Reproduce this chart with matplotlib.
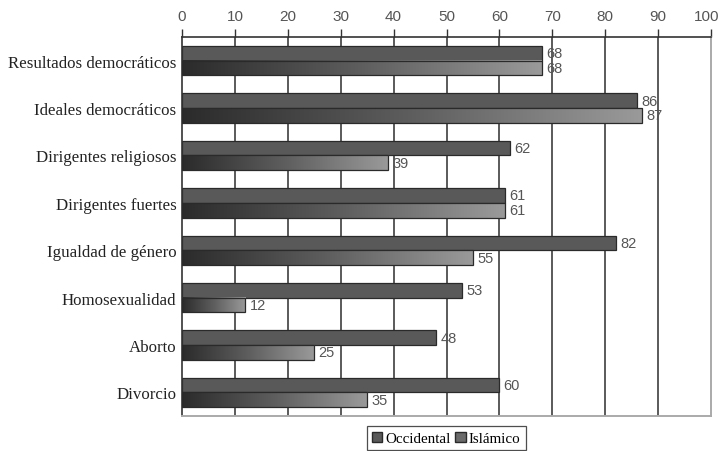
import numpy as np
import matplotlib
matplotlib.use("Agg")
import matplotlib.pyplot as plt
import matplotlib.transforms as mtransforms
from matplotlib.colors import LinearSegmentedColormap
from matplotlib.patches import Patch

categories = ["Resultados democráticos", "Ideales democráticos", "Dirigentes religiosos",
              "Dirigentes fuertes", "Igualdad de género", "Homosexualidad", "Aborto", "Divorcio"]
occidental = [68, 86, 62, 61, 82, 53, 48, 60]
islamico = [68, 87, 39, 61, 55, 12, 25, 35]
series_names = ["Occidental", "Islámico"]
x_ticks = [0, 10, 20, 30, 40, 50, 60, 70, 80, 90, 100]

fig = plt.figure(figsize=(7.22, 4.52), dpi=100)
ax = fig.add_axes([0.2521, 0.0774, 0.7327, 0.8385])

n = len(categories)
y = np.arange(n)
h = 0.31
grad = LinearSegmentedColormap.from_list("grad", ["#2b2b2b", "#5e5e5e", "#9a9a9a"])

# vertical gridlines
for t in x_ticks[1:-1]:
    ax.axvline(t, color="#5a5a5a", lw=1.4, zorder=0)

# Occidental bars: flat dark grey
ax.barh(y - h / 2, occidental, height=h, color="#595959", edgecolor="#2a2a2a",
        lw=0.9, zorder=2)

# Islámico bars: horizontal gradient from dark to light
gimg = np.linspace(0, 1, 256).reshape(1, -1)
for yi, v in zip(y, islamico):
    ax.imshow(gimg, cmap=grad, aspect="auto", interpolation="bilinear",
              extent=[0, v, yi + h, yi], zorder=2)
ax.barh(y + h / 2, islamico, height=h, fill=False, edgecolor="#2a2a2a", lw=0.9, zorder=3)
ax.set_aspect("auto")
ax.set_xlim(0, 100)
ax.set_ylim(n - 0.5, -0.5)

for yi, v in zip(y, occidental):
    ax.text(v + 0.8, yi - h / 2, f"{v}", va="center", ha="left", fontsize=10.5,
            color="#555555", family="Liberation Sans", zorder=4)
for yi, v in zip(y, islamico):
    ax.text(v + 0.8, yi + h / 2, f"{v}", va="center", ha="left", fontsize=10.5,
            color="#555555", family="Liberation Sans", zorder=4)

ax.set_yticks(y)
ax.set_yticklabels(categories, family="Liberation Serif", fontsize=12.2, color="#222222")
ax.tick_params(axis="y", length=0, pad=4)

ax.xaxis.tick_top()
ax.set_xticks(x_ticks)
ax.set_xticklabels([str(t) for t in x_ticks], family="Liberation Sans", fontsize=11,
                   color="#555555")
ax.tick_params(axis="x", direction="out", length=6, width=1, color="#333333", pad=4)
# keep the last tick label inside the figure edge
last = ax.get_xticklabels()[-1]
last.set_transform(last.get_transform() +
                   mtransforms.ScaledTranslation(-4 / 100, 0, fig.dpi_scale_trans))

ax.spines["top"].set_color("#333333")
ax.spines["top"].set_linewidth(1.2)
ax.spines["left"].set_color("#333333")
ax.spines["left"].set_linewidth(1.2)
ax.spines["right"].set_color("#aaaaaa")
ax.spines["right"].set_linewidth(1.4)
ax.spines["bottom"].set_color("#aaaaaa")
ax.spines["bottom"].set_linewidth(1.4)

handles = [Patch(facecolor="#595959", edgecolor="#2a2a2a"),
           Patch(facecolor="#6a6a6a", edgecolor="#2a2a2a")]
leg = fig.legend(handles, series_names, loc="center", bbox_to_anchor=(0.618, 0.028),
                 ncol=2, frameon=True, fancybox=False, edgecolor="#222222",
                 prop={"family": "Liberation Serif", "size": 10.8},
                 handlelength=0.7, handleheight=0.7, handletextpad=0.2,
                 columnspacing=0.3, borderpad=0.35, borderaxespad=0)
leg.get_frame().set_linewidth(0.9)

fig.savefig("out.png", dpi=100)
